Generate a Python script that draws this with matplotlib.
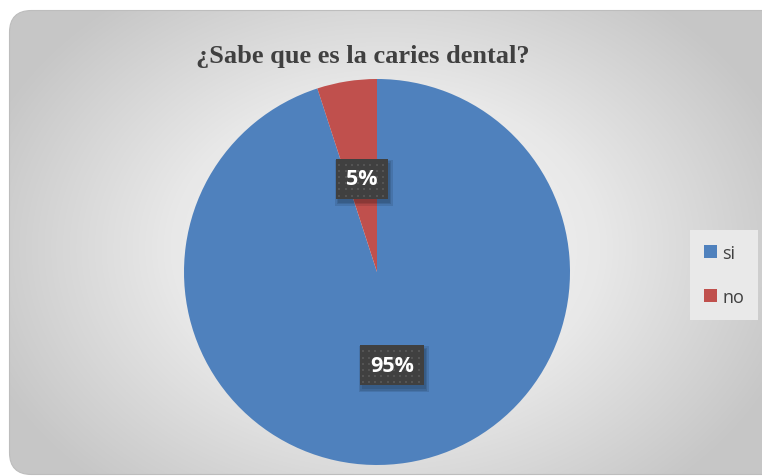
import numpy as np
import matplotlib
matplotlib.use("Agg")
import matplotlib.pyplot as plt
from matplotlib.patches import FancyBboxPatch, Patch, Rectangle
from matplotlib.colors import LinearSegmentedColormap
from matplotlib.transforms import IdentityTransform

categories = ["si", "no"]
values = [95, 5]
colors = ["#4F81BD", "#C0504D"]
title = "¿Sabe que es la caries dental?"

W, H = 762, 477
fig = plt.figure(figsize=(W / 100, H / 100), dpi=100)
fig.patch.set_facecolor("white")

# Rounded chart area with a radial grey gradient
bg = fig.add_axes([0, 0, 1, 1])
bg.set_xlim(0, W)
bg.set_ylim(0, H)
bg.axis("off")
yy, xx = np.mgrid[0:H, 0:W]
cx, cy = 385, H - 250
d = np.sqrt(((xx - cx) / 430.0) ** 2 + ((yy - cy) / 320.0) ** 2)
d = np.clip(d, 0, 1)
cmap = LinearSegmentedColormap.from_list("bg", ["#fafafa", "#e8e8e8", "#c6c6c6"])
im = bg.imshow(d, cmap=cmap, vmin=0, vmax=1, origin="lower",
               extent=[0, W, 0, H], interpolation="bilinear")
frame = FancyBboxPatch((9.5, 1.5), W + 20, H - 13,
                       boxstyle="round,pad=0,rounding_size=22",
                       facecolor="none", edgecolor="#bdbdbd", linewidth=0.8)
bg.add_patch(frame)
im.set_clip_path(frame)

fig.text(363 / W, 1 - 57 / H, title, ha="center", va="center",
         fontsize=19, fontweight="bold", family="Liberation Serif",
         color="#404040")

# Pie
r = 193
pcx, pcy = 377, H - 273
ax = fig.add_axes([(pcx - r) / W, (pcy - r) / H, 2 * r / W, 2 * r / H])
wedges, _ = ax.pie(values, colors=colors, startangle=90, counterclock=False,
                   radius=1, wedgeprops=dict(linewidth=0))
ax.set_xlim(-1, 1)
ax.set_ylim(-1, 1)
ax.set_aspect("equal")
ax.axis("off")

total = float(sum(values))
labels = []
for w, v in zip(wedges, values):
    ang = np.deg2rad((w.theta1 + w.theta2) / 2)
    dist = 0.49
    x, y = dist * np.cos(ang), dist * np.sin(ang)
    label = f"{v / total * 100:.0f}%"
    t = ax.text(x, y, label, ha="center", va="center", fontsize=15.5,
                fontweight="bold", family="Open Sans", color="white",
                zorder=7)
    labels.append(t)

# Dark label boxes with a soft drop shadow and a dotted texture
fig.canvas.draw()
renderer = fig.canvas.get_renderer()
for t in labels:
    ext = t.get_window_extent(renderer)
    px, py = ax.transData.transform(t.get_position())
    bw, bh = ext.width + 20, 40
    x0, y0 = px - bw / 2, py - bh / 2
    for k in range(3):
        g = 1.5 * k
        ax.add_patch(Rectangle((x0 + 2 - g, y0 - 4 - g), bw + 2 * g, bh + 2 * g,
                               transform=IdentityTransform(), facecolor="black",
                               alpha=0.10, linewidth=0, zorder=4))
    ax.add_patch(Rectangle((x0, y0), bw, bh, transform=IdentityTransform(),
                           facecolor="#404040", linewidth=0, zorder=5))
    xs = np.arange(x0 + 3, x0 + bw - 1, 6.2)
    ys = np.arange(y0 + 3, y0 + bh - 1, 6.2)
    gx, gy = np.meshgrid(xs, ys)
    ax.scatter(gx.ravel(), gy.ravel(), s=2.5, marker="s", color="#545454",
               linewidths=0, transform=IdentityTransform(), zorder=6)

handles = [Patch(facecolor=c, edgecolor="none") for c in colors]
leg = fig.legend(handles, categories, loc="center",
                 bbox_to_anchor=(724 / W, 1 - 276 / H),
                 frameon=True, fancybox=False, framealpha=1,
                 facecolor="#e9e9e9", edgecolor="none",
                 prop=dict(family="Open Sans", size=13),
                 labelcolor="#404040", handlelength=0.7, handleheight=0.7,
                 handletextpad=0.3, labelspacing=1.45, borderpad=0.75,
                 borderaxespad=0)

fig.savefig("out.png", dpi=100, facecolor="white")
